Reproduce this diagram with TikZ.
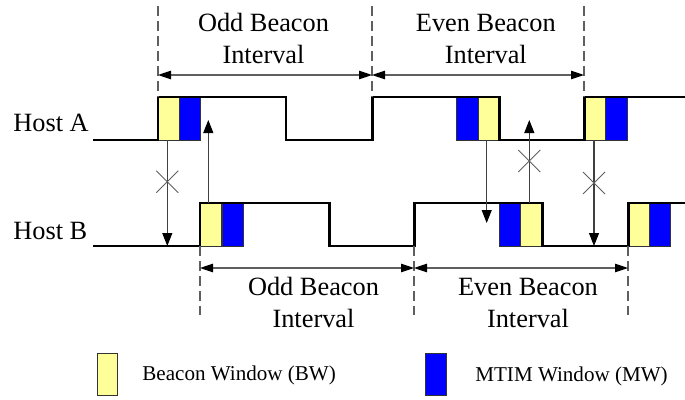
\documentclass[tikz,border=0pt]{standalone}
\usepackage{fontspec}
\setmainfont{Liberation Serif}
\usepackage{tikz}
\usetikzlibrary{arrows.meta}
\definecolor{bwyellow}{RGB}{255,255,153}
\definecolor{mwblue}{RGB}{0,0,255}
\definecolor{guidegray}{RGB}{95,95,95}

\begin{document}
\begin{tikzpicture}[x=0.02cm, y=-0.02cm,
  every node/.style={font=\fontsize{15}{18}\selectfont, inner sep=0pt},
  signal/.style={line width=1.7pt, line join=miter},
  bw/.style={draw=black!80, line width=0.5pt, fill=bwyellow},
  mw/.style={draw=black!80, line width=0.5pt, fill=mwblue},
  guide/.style={guidegray, line width=0.6pt, dash pattern=on 0.2cm off 0.1cm},
  span/.style={guidegray, line width=0.6pt,
    {Triangle[length=0.26cm, width=0.17cm, color=black]}-{Triangle[length=0.26cm, width=0.17cm, color=black]}},
  msg/.style={black!75, line width=0.6pt, -{Triangle[length=0.26cm, width=0.2cm, color=black]}},
  legendtext/.style={font=\fontsize{12}{14}\selectfont, anchor=base west}]
  \useasboundingbox (0,0) rectangle (685,399);

  % windows
  \foreach \x/\s in {158/bw, 179.3/mw, 456.7/mw, 478.3/bw, 584/bw, 605.7/mw}
    \draw[\s] (\x,97) rectangle ++(21.4,43);
  \foreach \x/\s in {200/bw, 222/mw, 499.3/mw, 520.7/bw, 628/bw, 649.3/mw}
    \draw[\s] (\x,203) rectangle ++(21.4,43);

  % hosts
  \node[anchor=base west] (hostA) at (13,131.7) {Host A};
  \node[anchor=base west] (hostB) at (13,239) {Host B};
  \draw[signal] (93,140) -- (158,140) -- (158,97) -- (286,97) -- (286,140) -- (372,140)
    -- (372,97) -- (499.3,97) -- (499.3,140) -- (584,140) -- (584,97) -- (690,97);
  \draw[signal] (93,246) -- (200,246) -- (200,203) -- (329,203) -- (329,246) -- (414,246)
    -- (414,203) -- (542,203) -- (542,246) -- (628,246) -- (628,203) -- (690,203);

  % beacon intervals
  \foreach \x [count=\i] in {158,372,584} {
    \coordinate (t\i) at (\x,75);
    \draw[guide] (\x,6) -- (\x,97);
  }
  \foreach \x [count=\i] in {200,414,628} {
    \coordinate (b\i) at (\x,268);
    \draw[guide] (\x,246) -- (\x,315);
  }
  \draw[span] (t1) -- (t2);
  \draw[span] (t2) -- (t3);
  \draw[span] (b1) -- (b2);
  \draw[span] (b2) -- (b3);
  \node[anchor=base, align=center] (oddTop) at (263.5,63.3) {Odd Beacon\\Interval};
  \node[anchor=base, align=center] (evenTop) at (485.8,63.3) {Even Beacon\\Interval};
  \node[anchor=base, align=center] (oddBot) at (313.5,327) {Odd Beacon\\Interval};
  \node[anchor=base, align=center] (evenBot) at (528,327) {Even Beacon\\Interval};

  % messages between hosts
  \coordinate (m1s) at (167.3,140);  \coordinate (m1e) at (167.3,246);
  \coordinate (m2s) at (208.3,203);  \coordinate (m2e) at (208.3,120);
  \coordinate (m3s) at (486.7,140);  \coordinate (m3e) at (486.7,223);
  \coordinate (m4s) at (529.3,203);  \coordinate (m4e) at (529.3,120);
  \coordinate (m5s) at (594,140);    \coordinate (m5e) at (594,246);
  \foreach \i in {1,...,5}
    \draw[msg] (m\i s) -- (m\i e);
  \foreach \x/\y in {167.3/181.7, 529.3/161, 594/183}
    \draw[guidegray, line width=0.5pt] (\x-11,\y-11) -- (\x+11,\y+11)
      (\x-11,\y+11) -- (\x+11,\y-11);

  % legend
  \draw[bw] (97,353) rectangle (117,395);
  \node[legendtext] (bwText) at (142,380) {Beacon Window (BW)};
  \draw[mw] (425,353) rectangle (446,395);
  \node[legendtext] (mwText) at (475,381.7) {MTIM Window (MW)};
\end{tikzpicture}
\end{document}
